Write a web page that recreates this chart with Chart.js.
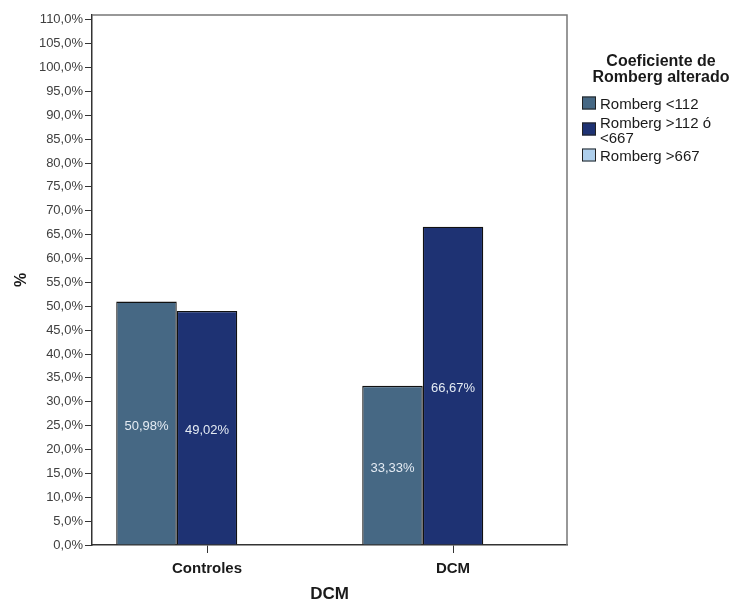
<!DOCTYPE html>
<html>
<head>
<meta charset="utf-8">
<script src="https://cdn.jsdelivr.net/npm/chart.js@4.4.1/dist/chart.umd.min.js"></script>
<style>
    body { margin: 0; background: #fff; }
</style>
</head>
<body>
<canvas id="chart" width="733" height="603"></canvas>
<script>
const categories = ['Controles', 'DCM'];
const seriesNames = ['Romberg <112', 'Romberg >112 ó <667', 'Romberg >667'];
const rombergLow = [50.98, 33.33];
const rombergMid = [49.02, 66.67];
const rombergHigh = [0, 0];
const seriesColors = ['#466884', '#1E3273', '#AECFEC'];
const yTickValues = [0, 5, 10, 15, 20, 25, 30, 35, 40, 45, 50, 55, 60, 65, 70, 75, 80, 85, 90, 95, 100, 105, 110];
const legendTitle = ['Coeficiente de', 'Romberg alterado'];

const FONT = "'Liberation Sans', Arial, sans-serif";

function pct(v, digits) {
    return v.toFixed(digits).replace('.', ',') + '%';
}

function toPoints(values) {
    return values.map((v, i) => ({ x: i, y: v }));
}

// top and right sides of the plot box
const framePlugin = {
    id: 'frame',
    beforeDatasetsDraw(chart) {
        const { ctx, chartArea: a } = chart;
        ctx.save();
        ctx.strokeStyle = '#777';
        ctx.lineWidth = 1.5;
        ctx.beginPath();
        ctx.moveTo(a.left, a.top);
        ctx.lineTo(a.right, a.top);
        ctx.lineTo(a.right, a.bottom);
        ctx.stroke();
        ctx.restore();
    }
};

const barLabelPlugin = {
    id: 'barLabels',
    afterDatasetsDraw(chart) {
        const ctx = chart.ctx;
        ctx.save();
        ctx.font = '13px ' + FONT;
        ctx.fillStyle = '#e4ebf3';
        ctx.textAlign = 'center';
        ctx.textBaseline = 'middle';
        chart.data.datasets.forEach((ds, i) => {
            chart.getDatasetMeta(i).data.forEach((bar, j) => {
                const v = ds.data[j].y;
                if (!v) return;
                ctx.fillText(pct(v, 2), bar.x, (bar.y + bar.base) / 2 + 3);
            });
        });
        ctx.restore();
    }
};

function wrapText(ctx, text, maxWidth) {
    const words = text.split(' ');
    const lines = [];
    let line = '';
    words.forEach(w => {
        const test = line ? line + ' ' + w : w;
        if (ctx.measureText(test).width > maxWidth && line) {
            lines.push(line);
            line = w;
        } else {
            line = test;
        }
    });
    lines.push(line);
    return lines;
}

const legendPlugin = {
    id: 'sideLegend',
    afterDraw(chart) {
        const ctx = chart.ctx;
        ctx.save();
        ctx.fillStyle = '#1a1a1a';
        ctx.textAlign = 'center';
        ctx.textBaseline = 'middle';
        ctx.font = 'bold 16px ' + FONT;
        legendTitle.forEach((t, i) => ctx.fillText(t, 661, 62 + i * 16));

        ctx.font = '15px ' + FONT;
        ctx.textAlign = 'left';
        let top = 97.5;
        const lineH = 15;
        chart.data.datasets.forEach((ds, i) => {
            const lines = wrapText(ctx, ds.label, 125);
            const blockH = lines.length * lineH;
            const boxCenter = top + blockH / 2 - 2;
            ctx.fillStyle = ds.backgroundColor;
            ctx.fillRect(582, boxCenter - 6.5, 14, 13);
            ctx.strokeStyle = '#222';
            ctx.lineWidth = 1;
            ctx.strokeRect(582.5, boxCenter - 6, 13, 12);
            ctx.fillStyle = '#1a1a1a';
            lines.forEach((l, k) => ctx.fillText(l, 600, top + 7.5 + k * lineH));
            top += blockH + 3.5;
        });
        ctx.restore();
    }
};

const seriesValues = [rombergLow, rombergMid, rombergHigh];

new Chart(document.getElementById('chart'), {
    type: 'bar',
    data: {
        datasets: seriesNames.map((name, i) => ({
            label: name,
            data: toPoints(seriesValues[i]),
            backgroundColor: seriesColors[i],
            borderColor: '#111',
            borderWidth: 1.3,
            categoryPercentage: 0.738,
            barPercentage: 1
        }))
    },
    options: {
        responsive: false,
        animation: false,
        layout: { padding: { top: 15, right: 166, bottom: 0, left: 0 } },
        plugins: {
            legend: { display: false },
            tooltip: { enabled: false }
        },
        scales: {
            x: {
                type: 'linear',
                offset: false,
                min: -0.4675,
                max: 1.4634,
                afterBuildTicks(scale) {
                    scale.ticks = categories.map((c, i) => ({ value: i }));
                },
                afterFit(scale) {
                    scale.height = 58;
                },
                grid: { offset: false, drawOnChartArea: false, drawTicks: true, tickLength: 8, color: '#333' },
                border: { color: '#333', width: 1.5 },
                ticks: {
                    padding: 7,
                    color: '#1a1a1a',
                    font: { family: FONT, size: 15, weight: 'bold' },
                    callback: v => categories[v]
                },
                title: {
                    display: true,
                    text: 'DCM',
                    color: '#1a1a1a',
                    font: { family: FONT, size: 17, weight: 'bold', lineHeight: 1 },
                    padding: { top: 0, bottom: 0 }
                }
            },
            y: {
                min: 0,
                max: 111,
                afterBuildTicks(scale) {
                    scale.ticks = yTickValues.map(v => ({ value: v }));
                },
                afterFit(scale) {
                    scale.width = 92;
                },
                grid: { drawOnChartArea: false, drawTicks: true, tickLength: 7, color: '#333' },
                border: { color: '#333', width: 1.5 },
                ticks: {
                    padding: 2,
                    color: '#404040',
                    font: { family: FONT, size: 13 },
                    callback: v => pct(v, 1)
                },
                title: {
                    display: true,
                    text: '%',
                    color: '#1a1a1a',
                    font: { family: FONT, size: 16, weight: 'bold', lineHeight: 1 },
                    padding: { top: 14, bottom: 0 }
                }
            }
        }
    },
    plugins: [framePlugin, barLabelPlugin, legendPlugin]
});
</script>
</body>
</html>
